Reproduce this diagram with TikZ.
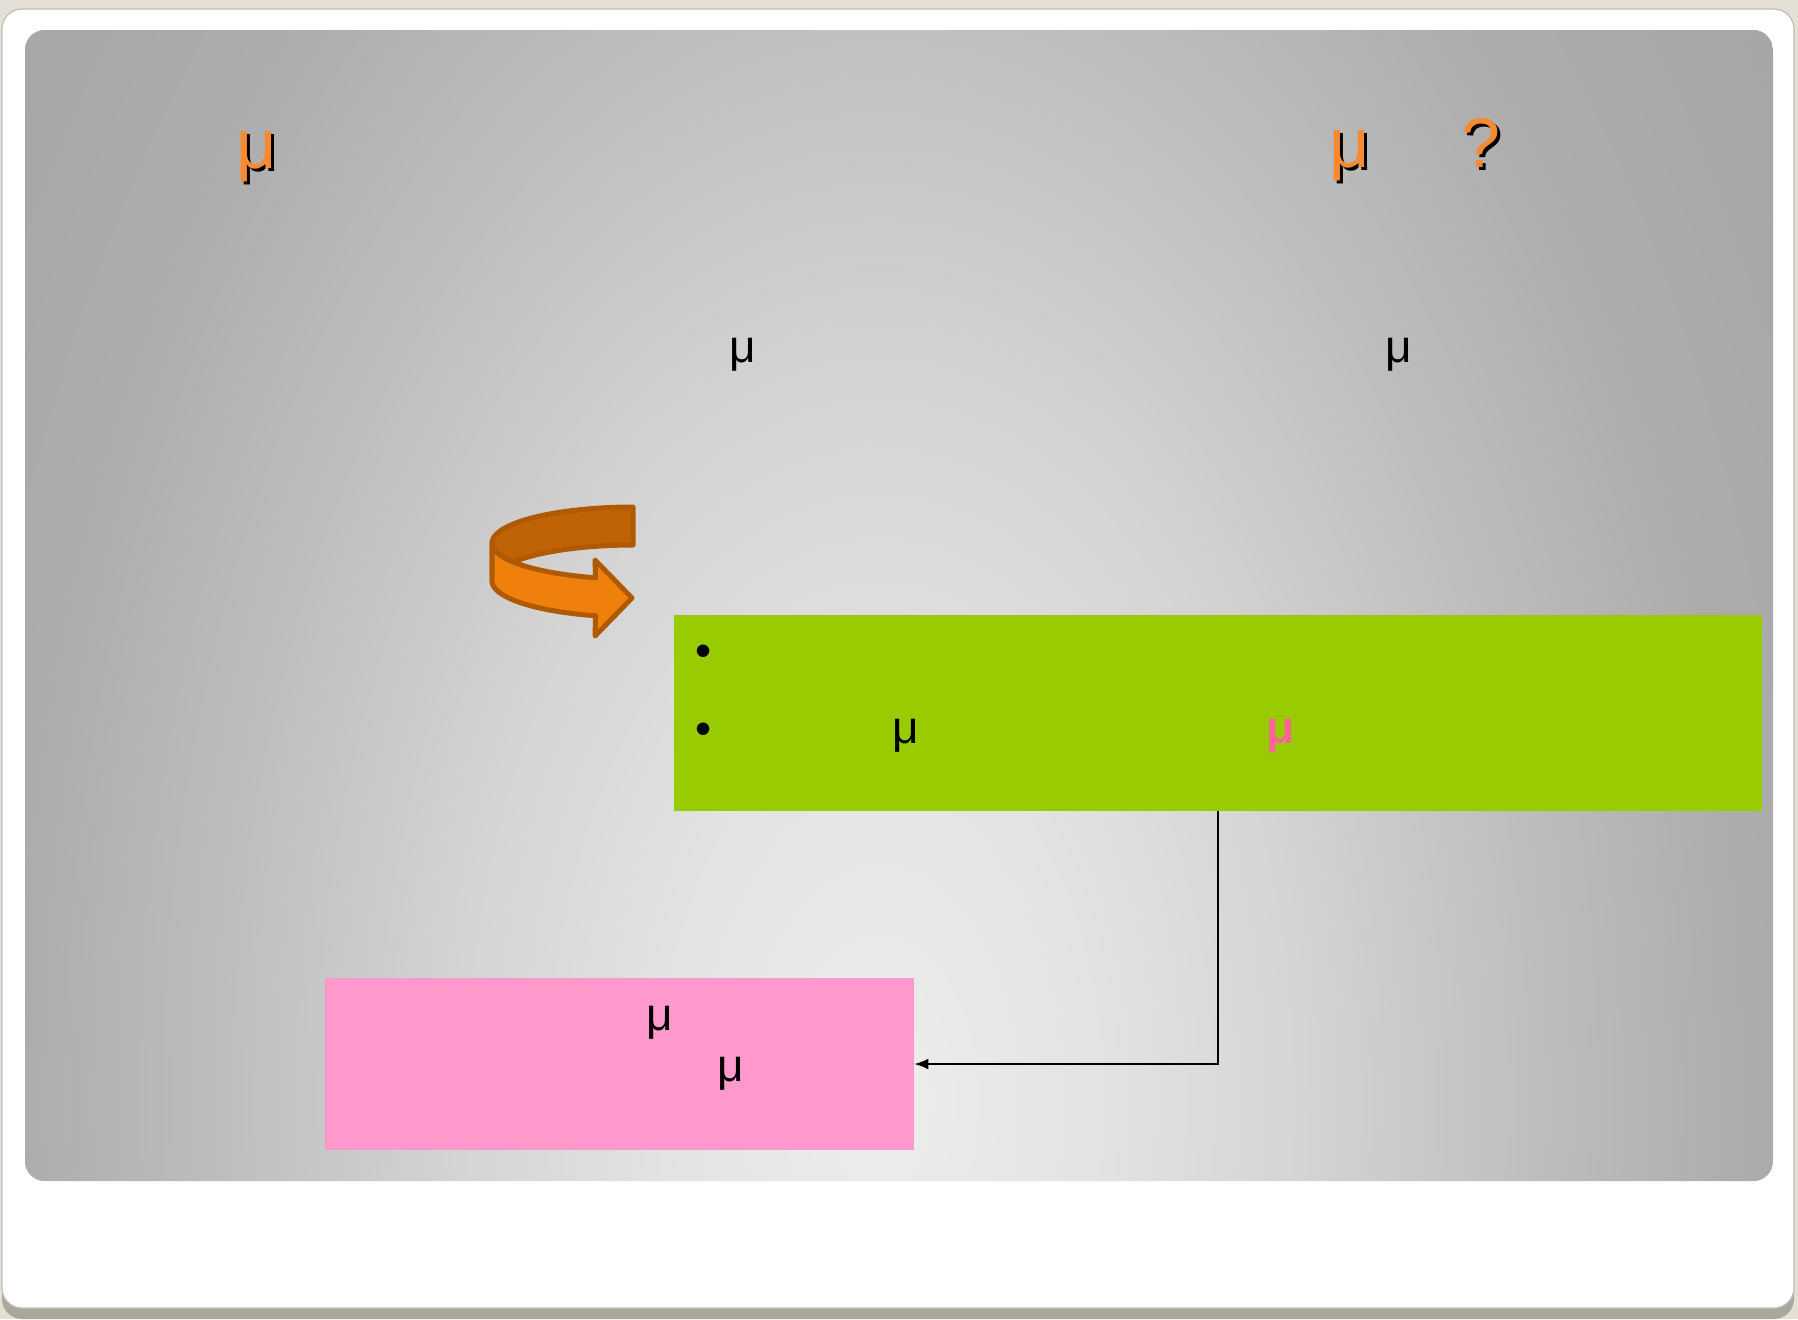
\documentclass[tikz,border=0pt]{standalone}
\usepackage{fontspec}
\setmainfont{Liberation Sans}
\usepackage{tikz}
\usetikzlibrary{calc, shapes, arrows.meta}
\usetikzlibrary{positioning}
\definecolor{slidebg}{RGB}{229,224,213}
\definecolor{frameline}{RGB}{190,190,186}
\definecolor{frameshadow}{RGB}{170,168,157}
\definecolor{titleorange}{RGB}{247,137,48}
\definecolor{boxgreen}{RGB}{153,204,0}
\definecolor{boxpink}{RGB}{255,153,204}
\definecolor{mupink}{RGB}{250,102,150}
\definecolor{ribbondark}{RGB}{192,98,6}
\definecolor{ribbonlight}{RGB}{240,128,12}
\definecolor{ribbonedge}{RGB}{176,90,0}
\definecolor{panelA}{RGB}{237,237,237}
\definecolor{panelB}{RGB}{227,227,227}
\definecolor{panelC}{RGB}{211,211,211}
\definecolor{panelD}{RGB}{190,190,190}
\definecolor{panelE}{RGB}{172,172,172}
\definecolor{panelF}{RGB}{166,166,166}
\pgfdeclareradialshading{panelshade}{\pgfpointorigin}{color(0bp)=(panelA); color(5bp)=(panelB); color(10bp)=(panelC); color(15bp)=(panelD); color(20bp)=(panelE); color(25bp)=(panelF); color(50bp)=(panelF)}
\tikzstyle{titletext} = [font=\fontsize{35}{42}\selectfont, text=titleorange,
    anchor=base, inner sep=0pt]
\tikzstyle{titleshadow} = [titletext, text=black]
\tikzstyle{bodytext} = [font=\fontsize{23}{28}\selectfont, anchor=base, inner sep=0pt]
\tikzstyle{greenbox} = [fill=boxgreen, rectangle, inner sep=0pt,
    minimum width=544pt, minimum height=98pt]
\tikzstyle{pinkbox} = [fill=boxpink, rectangle, inner sep=0pt,
    minimum width=294.5pt, minimum height=86pt]

\begin{document}
\begin{tikzpicture}[x=0.5pt, y=-0.5pt]
            \useasboundingbox (0, 0) rectangle (1798, 1319);
            \fill[slidebg] (0, 0) rectangle (1798, 1319);
            \fill[frameshadow, rounded corners=10pt] (2, 40) rectangle (1794, 1319);
            \filldraw[fill=white, draw=frameline, line width=0.6pt, rounded corners=10pt] (2, 9) rectangle (1794, 1308);

            \begin{scope}
                \clip[rounded corners=10pt] (25, 30) rectangle (1773, 1181);
                \fill[panelF] (25, 30) rectangle (1773, 1181);
                \shade[shading=panelshade] (880, 1100) ellipse [x radius=1087, y radius=1837];
            \end{scope}

            \fill[ribbondark, draw=ribbonedge, line width=2.5pt, line join=round]
                plot[domain=180:270, samples=30] ({633+141*cos(\x)}, {543+36*sin(\x)})
                -- plot[domain=270:180, samples=30] ({633+141*cos(\x)}, {581+36*sin(\x)}) -- cycle;
            \fill[ribbonlight, draw=ribbonedge, line width=2.5pt, line join=round]
                plot[domain=180:105.4, samples=30] ({633+141*cos(\x)}, {543+36*sin(\x)})
                -- (595, 560) -- (632, 598) -- (595, 636)
                -- plot[domain=105.4:180, samples=30] ({633+141*cos(\x)}, {581+36*sin(\x)}) -- cycle;

            \node[greenbox, name=facts] at (1218, 713) {};
            \node[pinkbox, name=summary] at (619.5, 1064) {};

            \draw[-{Latex[length=7pt, width=5.5pt]}, line width=0.9pt] (facts.south) |- (summary.east);

            \node[titleshadow, name=title_mu_a_sh] at (259.5, 171) {μ};
            \node[titletext, name=title_mu_a] at (256.5, 168) {μ};
            \node[titleshadow, name=title_mu_b_sh] at (1353, 170) {μ};
            \node[titletext, name=title_mu_b] at (1350, 167) {μ};
            \node[titleshadow, name=title_q_sh] at (1484, 170) {?};
            \node[titletext, name=title_q] at (1481, 167) {?};

            \node[bodytext, name=mu_left] at (743, 362) {μ};
            \node[bodytext, name=mu_right] at (1399, 362) {μ};

            \node[bodytext, name=bullet_a] at (704, 666) {•};
            \node[bodytext, name=bullet_b] at (704, 744) {•};
            \node[bodytext, name=facts_mu] at (906, 743) {μ};
            \node[bodytext, text=mupink, font=\fontsize{23}{28}\selectfont\bfseries, name=facts_mu_bold] at (1281, 743) {μ};

            \node[bodytext, name=summary_mu_a] at (660, 1030) {μ};
            \node[bodytext, name=summary_mu_b] at (731, 1081) {μ};
        \end{tikzpicture}
\end{document}
